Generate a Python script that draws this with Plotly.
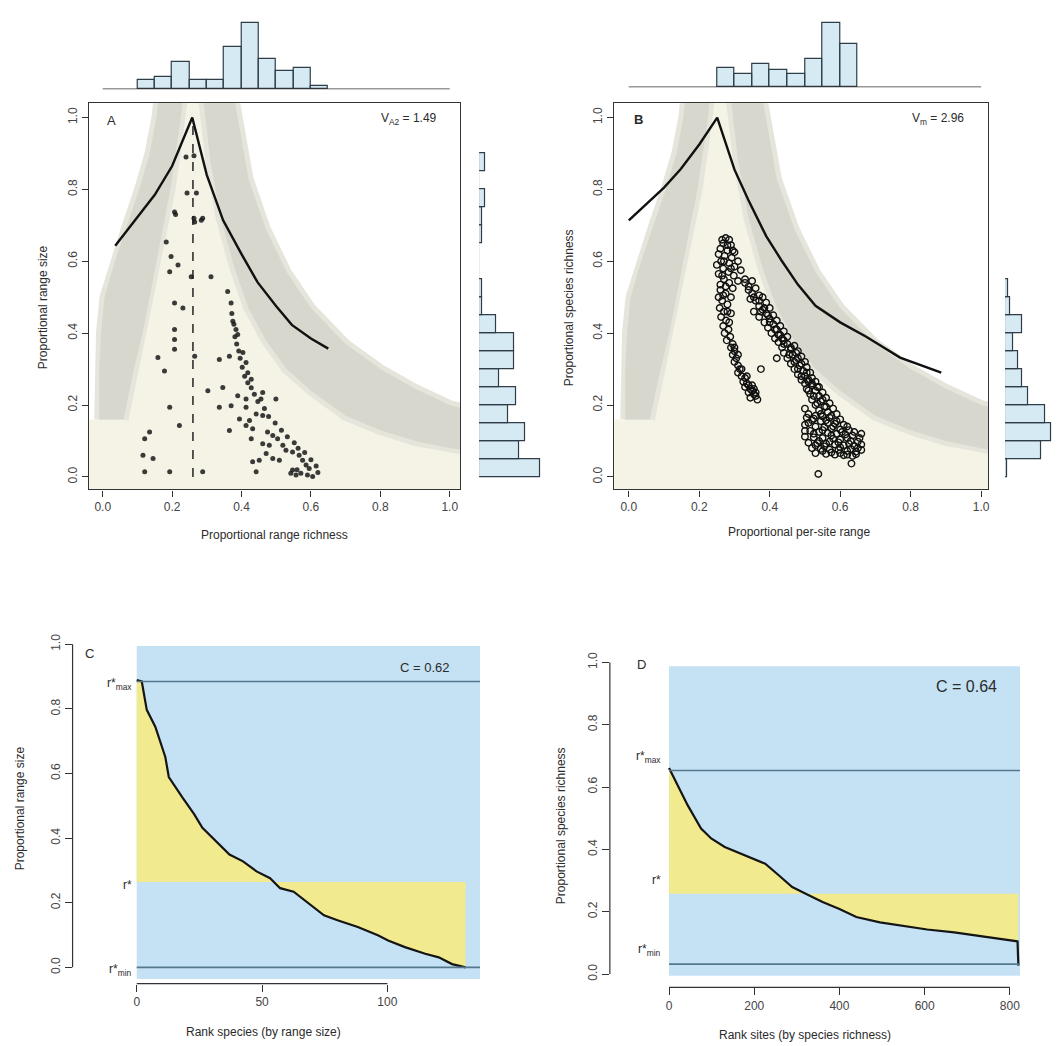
import plotly.graph_objects as go

# ---------------------------------------------------------------- data
prop_ticks = [0.0, 0.2, 0.4, 0.6, 0.8, 1.0]
prop_tick_text = ["0.0", "0.2", "0.4", "0.6", "0.8", "1.0"]

# Panel A scatter (proportional range richness, proportional range size)
a_points = [
    (0.24, 0.89), (0.263, 0.894), (0.243, 0.79), (0.27, 0.79), (0.21, 0.73), (0.263, 0.72), (0.288, 0.72),
    (0.207, 0.737), (0.284, 0.714), (0.265, 0.709), (0.183, 0.654), (0.197, 0.613), (0.217, 0.59),
    (0.193, 0.571), (0.255, 0.557), (0.312, 0.557), (0.36, 0.516), (0.37, 0.484), (0.207, 0.484),
    (0.231, 0.47), (0.375, 0.433), (0.384, 0.41), (0.389, 0.396), (0.207, 0.41), (0.207, 0.382),
    (0.207, 0.355), (0.159, 0.332), (0.265, 0.336), (0.336, 0.327), (0.365, 0.336), (0.404, 0.346),
    (0.413, 0.318), (0.178, 0.295), (0.418, 0.29), (0.428, 0.272), (0.303, 0.24), (0.346, 0.249),
    (0.389, 0.226), (0.413, 0.217), (0.456, 0.217), (0.461, 0.235), (0.499, 0.217), (0.193, 0.194),
    (0.336, 0.194), (0.37, 0.198), (0.413, 0.194), (0.442, 0.175), (0.461, 0.171), (0.394, 0.161),
    (0.423, 0.157), (0.221, 0.143), (0.365, 0.129), (0.413, 0.143), (0.432, 0.134), (0.475, 0.125),
    (0.49, 0.115), (0.504, 0.106), (0.135, 0.125), (0.121, 0.106), (0.428, 0.106), (0.461, 0.092),
    (0.48, 0.088), (0.519, 0.088), (0.528, 0.074), (0.547, 0.069), (0.471, 0.065), (0.116, 0.06),
    (0.145, 0.051), (0.432, 0.042), (0.451, 0.046), (0.49, 0.051), (0.509, 0.046), (0.566, 0.06),
    (0.576, 0.046), (0.586, 0.033), (0.595, 0.023), (0.547, 0.019), (0.288, 0.014), (0.121, 0.014),
    (0.193, 0.014), (0.442, 0.014), (0.542, 0.01), (0.557, 0.005), (0.571, 0.01), (0.605, 0.001),
    (0.372, 0.455), (0.378, 0.425), (0.381, 0.39), (0.386, 0.37), (0.392, 0.35), (0.396, 0.33),
    (0.402, 0.305), (0.409, 0.28), (0.418, 0.262), (0.428, 0.248), (0.437, 0.23), (0.447, 0.21),
    (0.466, 0.19), (0.478, 0.168), (0.497, 0.15), (0.515, 0.13), (0.532, 0.112), (0.552, 0.095),
    (0.563, 0.08), (0.582, 0.068), (0.6, 0.048), (0.615, 0.03), (0.59, 0.005), (0.56, 0.02), (0.62, 0.012),
]

# Panel B scatter (proportional per-site range, proportional species richness)
b_points = [
    (0.275, 0.665), (0.285, 0.66), (0.268, 0.65), (0.29, 0.645), (0.26, 0.635), (0.28, 0.63), (0.3, 0.625),
    (0.255, 0.62), (0.272, 0.615), (0.292, 0.61), (0.31, 0.6), (0.262, 0.6), (0.285, 0.595), (0.25, 0.59),
    (0.3, 0.585), (0.268, 0.58), (0.318, 0.575), (0.283, 0.57), (0.255, 0.565), (0.298, 0.56), (0.27, 0.55),
    (0.31, 0.545), (0.285, 0.54), (0.26, 0.535), (0.33, 0.54), (0.295, 0.525),
    (0.26, 0.52), (0.275, 0.51), (0.255, 0.5), (0.29, 0.5), (0.265, 0.49), (0.28, 0.48), (0.258, 0.47),
    (0.27, 0.46), (0.29, 0.455), (0.262, 0.445), (0.276, 0.435), (0.268, 0.42), (0.283, 0.41), (0.272, 0.4),
    (0.288, 0.39), (0.278, 0.38), (0.295, 0.37),
    (0.29, 0.36), (0.3, 0.35), (0.295, 0.34), (0.305, 0.33), (0.3, 0.32), (0.31, 0.31), (0.315, 0.3),
    (0.31, 0.29), (0.32, 0.28), (0.33, 0.275), (0.325, 0.265), (0.335, 0.26), (0.34, 0.255), (0.33, 0.25),
    (0.345, 0.245), (0.35, 0.24), (0.34, 0.235), (0.355, 0.23), (0.36, 0.225), (0.345, 0.22), (0.365, 0.215),
    (0.33, 0.55), (0.35, 0.545), (0.34, 0.53), (0.36, 0.525), (0.35, 0.51), (0.37, 0.505), (0.38, 0.5),
    (0.345, 0.495), (0.36, 0.49), (0.39, 0.485), (0.37, 0.475), (0.4, 0.47), (0.38, 0.465), (0.355, 0.46),
    (0.39, 0.455), (0.41, 0.45), (0.37, 0.445), (0.4, 0.44), (0.42, 0.435), (0.385, 0.43), (0.41, 0.425),
    (0.43, 0.42), (0.395, 0.415), (0.42, 0.41), (0.44, 0.405), (0.405, 0.4), (0.43, 0.395), (0.45, 0.39),
    (0.415, 0.385), (0.44, 0.38),
    (0.425, 0.375), (0.45, 0.37), (0.47, 0.365), (0.435, 0.36), (0.46, 0.355), (0.48, 0.35), (0.44, 0.345),
    (0.465, 0.34), (0.49, 0.335), (0.45, 0.33), (0.475, 0.325), (0.5, 0.32), (0.46, 0.315), (0.485, 0.31),
    (0.505, 0.305), (0.47, 0.3), (0.495, 0.295), (0.515, 0.29), (0.48, 0.285), (0.5, 0.28), (0.52, 0.275),
    (0.49, 0.27), (0.51, 0.265),
    (0.53, 0.265), (0.5, 0.26), (0.52, 0.255), (0.54, 0.25), (0.505, 0.245), (0.53, 0.24), (0.55, 0.235),
    (0.515, 0.23), (0.54, 0.225), (0.56, 0.22), (0.52, 0.215), (0.545, 0.21), (0.57, 0.205), (0.53, 0.2),
    (0.555, 0.195), (0.58, 0.19), (0.5, 0.19), (0.54, 0.185), (0.565, 0.18), (0.59, 0.175),
    (0.51, 0.175), (0.53, 0.17), (0.55, 0.168), (0.57, 0.165), (0.6, 0.16), (0.52, 0.158), (0.545, 0.155),
    (0.565, 0.15), (0.585, 0.148), (0.61, 0.145), (0.5, 0.145), (0.53, 0.14), (0.555, 0.138), (0.575, 0.135),
    (0.6, 0.132), (0.625, 0.13), (0.515, 0.128), (0.54, 0.125), (0.565, 0.122), (0.59, 0.12), (0.615, 0.118),
    (0.635, 0.115), (0.5, 0.112), (0.525, 0.11), (0.55, 0.108), (0.58, 0.106), (0.6, 0.104), (0.63, 0.1),
    (0.65, 0.098), (0.51, 0.095), (0.535, 0.094), (0.56, 0.092), (0.585, 0.09), (0.61, 0.088), (0.64, 0.086),
    (0.66, 0.09), (0.52, 0.08), (0.545, 0.078), (0.57, 0.076), (0.595, 0.075), (0.62, 0.072), (0.645, 0.07),
    (0.53, 0.066), (0.56, 0.064), (0.585, 0.062), (0.61, 0.06), (0.635, 0.058),
    (0.632, 0.037), (0.538, 0.008), (0.66, 0.12), (0.375, 0.3), (0.42, 0.33),
    (0.505, 0.165), (0.525, 0.162), (0.56, 0.158), (0.59, 0.155), (0.62, 0.14), (0.51, 0.15), (0.58, 0.14),
    (0.64, 0.125), (0.55, 0.13), (0.605, 0.125), (0.525, 0.12), (0.575, 0.115), (0.62, 0.108), (0.655, 0.108),
    (0.54, 0.1), (0.57, 0.098), (0.595, 0.096), (0.625, 0.092), (0.65, 0.08), (0.5, 0.128), (0.53, 0.088),
    (0.555, 0.085), (0.6, 0.082), (0.63, 0.078), (0.575, 0.068), (0.6, 0.066), (0.55, 0.072), (0.62, 0.062),
    (0.645, 0.063), (0.66, 0.075),
    (0.44, 0.37), (0.46, 0.36), (0.475, 0.345), (0.455, 0.34), (0.48, 0.33), (0.47, 0.32), (0.49, 0.315),
    (0.48, 0.3), (0.505, 0.29), (0.49, 0.28), (0.51, 0.27), (0.52, 0.26), (0.535, 0.25), (0.51, 0.24),
    (0.525, 0.225), (0.55, 0.215), (0.535, 0.205), (0.56, 0.195), (0.545, 0.175), (0.575, 0.17),
    (0.34, 0.52), (0.355, 0.5), (0.37, 0.49), (0.375, 0.46), (0.395, 0.45), (0.4, 0.43), (0.415, 0.41),
    (0.425, 0.395), (0.435, 0.385), (0.385, 0.47),
    (0.265, 0.66), (0.28, 0.645), (0.295, 0.63), (0.27, 0.6), (0.29, 0.58), (0.265, 0.56), (0.275, 0.53),
    (0.268, 0.505), (0.28, 0.46), (0.285, 0.43), (0.3, 0.36), (0.31, 0.34), (0.32, 0.3), (0.335, 0.28),
    (0.35, 0.255), (0.355, 0.245), (0.36, 0.235),
]

# Upper-bound curves
a_curve_x = [0.036, 0.09, 0.15, 0.2, 0.258, 0.3, 0.347, 0.4, 0.446, 0.5, 0.545, 0.6, 0.65]
a_curve_y = [0.643, 0.71, 0.785, 0.865, 1.0, 0.84, 0.714, 0.62, 0.542, 0.475, 0.423, 0.385, 0.357]
a_mean_x = 0.26
b_curve_x = [0.0, 0.05, 0.1, 0.147, 0.2, 0.251, 0.3, 0.339, 0.39, 0.435, 0.48, 0.53, 0.6, 0.674, 0.77, 0.887]
b_curve_y = [0.714, 0.76, 0.805, 0.856, 0.925, 1.0, 0.855, 0.771, 0.67, 0.6, 0.535, 0.476, 0.43, 0.39, 0.332, 0.29]

# Grey null-model envelope (shared by A and B)
band_left_y = [0.16, 0.3, 0.4, 0.5, 0.6, 0.7, 0.8, 0.9, 1.0, 1.05]
band_left_outer = [-0.01, -0.01, -0.005, 0.005, 0.035, 0.07, 0.105, 0.135, 0.155, 0.16]
band_left_inner = [0.06, 0.09, 0.115, 0.135, 0.155, 0.175, 0.195, 0.21, 0.225, 0.23]
band_right_x = [0.29, 0.31, 0.34, 0.38, 0.42, 0.47, 0.53, 0.6, 0.7, 0.8, 0.9, 1.0, 1.04]
band_right_lower = [1.05, 0.88, 0.72, 0.58, 0.47, 0.38, 0.3, 0.24, 0.17, 0.13, 0.1, 0.08, 0.075]
band_right_upper = [1.05, 1.05, 1.05, 1.05, 0.83, 0.69, 0.57, 0.47, 0.37, 0.3, 0.245, 0.2, 0.19]

# Marginal histograms (bin left edges, counts), bin width 0.05
bin_width = 0.05
a_top_edges = [0.10, 0.15, 0.20, 0.25, 0.30, 0.35, 0.40, 0.45, 0.50, 0.55, 0.60]
a_top_counts = [3, 4, 9, 3, 3, 14, 22, 10, 6, 7, 1]
b_top_edges = [0.25, 0.30, 0.35, 0.40, 0.45, 0.50, 0.55, 0.60]
b_top_counts = [58, 40, 72, 52, 40, 85, 196, 133]
a_right_edges = [0.0, 0.05, 0.10, 0.15, 0.20, 0.25, 0.30, 0.35, 0.40, 0.45, 0.50, 0.55, 0.60, 0.65, 0.70, 0.75, 0.80, 0.85]
a_right_counts = [21, 14, 16, 10, 13, 7, 12, 12, 6, 1, 1, 0, 0, 1, 1, 2, 0, 2]
b_right_edges = [0.0, 0.05, 0.10, 0.15, 0.20, 0.25, 0.30, 0.35, 0.40, 0.45, 0.50]
b_right_counts = [5, 110, 140, 120, 70, 52, 40, 25, 52, 15, 9]

# Panel C: ranked range sizes
c_rank = [0, 2, 4, 7.4, 11.4, 12.8, 18.2, 22.9, 26.2, 33, 37, 42.4, 47.8, 53.2, 57.2, 62.6, 69.3, 74.7,
          80.1, 88.2, 96.2, 100.3, 107, 115.1, 120.5, 125.8, 131.2]
c_value = [0.889, 0.885, 0.797, 0.745, 0.651, 0.589, 0.526, 0.474, 0.432, 0.38, 0.349, 0.328, 0.297, 0.276,
           0.245, 0.234, 0.193, 0.161, 0.146, 0.125, 0.099, 0.083, 0.0625, 0.042, 0.031, 0.01, 0.0]
c_r_max, c_r_mean, c_r_min = 0.885, 0.264, 0.0
c_n_max = 137
c_ticks_x = [0, 50, 100]
c_stat = "C = 0.62"

# Panel D: ranked site richness
d_rank = [0, 19.8, 43.6, 75.2, 99, 130.7, 178.2, 225.7, 257.4, 289.1, 320.8, 360.4, 400, 439.6, 495,
          542.6, 606, 669.3, 724.8, 780.2, 811.9, 818, 820]
d_value = [0.661, 0.607, 0.542, 0.467, 0.435, 0.408, 0.381, 0.354, 0.317, 0.279, 0.258, 0.231, 0.209,
           0.183, 0.166, 0.156, 0.143, 0.134, 0.124, 0.113, 0.107, 0.105, 0.027]
d_r_max, d_r_mean, d_r_min = 0.653, 0.258, 0.032
d_n_max = 824
d_ticks_x = [0, 200, 400, 600, 800]
d_stat = "C = 0.64"

# ---------------------------------------------------------------- styles
W, H = 1060, 1046
OFF = 8  # page body margin
FONT = "Liberation Sans, Arial, sans-serif"
INK = "#2b2b2b"
BEIGE = "#f4f3e6"
BAND = "#d7d7cd"
HALO = "#e5e5db"
BLUE = "#c4e2f4"
YELLOW = "#f2ea8e"
RLINE = "#55788c"
HIST_FILL = "rgba(165,208,230,0.45)"
HIST_LINE = "#2e3d47"


def fx(px):
    return (px - OFF) / W


def fy(py):
    return 1 - (py - OFF) / H


A_X = [fx(89), fx(461)]
B_X = [fx(615.5), fx(990)]
AB_Y = [fy(484), fy(94)]
A_XR = [-0.04, 1.03]
B_XR = [-0.041, 1.02]
AB_YR = [-0.035, 1.04]

fig = go.Figure()


def add_envelope(xa, ya, curve_x, curve_y):
    bx = [-0.05, -0.05] + band_left_outer + band_right_x + [1.05]
    by = [-0.05, band_left_y[0]] + band_left_y + band_right_upper + [-0.05]
    fig.add_trace(go.Scatter(x=bx, y=by, fill="toself", fillcolor=BEIGE, mode="lines",
                             line=dict(width=0), xaxis=xa, yaxis=ya, hoverinfo="skip"))
    lx = band_left_outer + band_left_inner[::-1]
    ly = band_left_y + band_left_y[::-1]
    rx = band_right_x + band_right_x[::-1]
    ry = band_right_lower + band_right_upper[::-1]
    for px_, py_ in ((lx, ly), (rx, ry)):
        fig.add_trace(go.Scatter(x=px_, y=py_, fill="toself", fillcolor=HALO, mode="lines",
                                 line=dict(width=10, color=HALO), xaxis=xa, yaxis=ya, hoverinfo="skip"))
        fig.add_trace(go.Scatter(x=px_, y=py_, fill="toself", fillcolor=BAND, mode="lines",
                                 line=dict(width=0), xaxis=xa, yaxis=ya, hoverinfo="skip"))
    fig.add_trace(go.Scatter(x=curve_x, y=curve_y, mode="lines", line=dict(color="#111", width=2.4),
                             xaxis=xa, yaxis=ya, hoverinfo="skip"))


# ---- Panel A
add_envelope("x", "y", a_curve_x, a_curve_y)
fig.add_trace(go.Scatter(x=[a_mean_x, a_mean_x], y=[0, 1.0], mode="lines",
                         line=dict(color="#222", width=1.5, dash="dash"), xaxis="x", yaxis="y"))
fig.add_trace(go.Scatter(x=[p[0] for p in a_points], y=[p[1] for p in a_points], mode="markers",
                         marker=dict(size=5, color="rgba(25,25,25,0.85)"), xaxis="x", yaxis="y"))

# ---- Panel B
add_envelope("x2", "y2", b_curve_x, b_curve_y)
fig.add_trace(go.Scatter(x=[p[0] for p in b_points], y=[p[1] for p in b_points], mode="markers",
                         marker=dict(size=6.5, symbol="circle-open", color="#111", line=dict(width=1.4)),
                         xaxis="x2", yaxis="y2"))


# ---- marginal histograms
def centers(edges):
    return [e + bin_width / 2 for e in edges]


hist_marker = dict(color=HIST_FILL, line=dict(color=HIST_LINE, width=1.2))
fig.add_trace(go.Bar(x=centers(a_top_edges), y=a_top_counts, width=bin_width, marker=hist_marker,
                     xaxis="x3", yaxis="y3"))
fig.add_trace(go.Scatter(x=[0, 1], y=[0, 0], mode="lines", line=dict(color="#333", width=1.5),
                         xaxis="x3", yaxis="y3"))
fig.add_trace(go.Bar(x=centers(b_top_edges), y=b_top_counts, width=bin_width, marker=hist_marker,
                     xaxis="x4", yaxis="y4"))
fig.add_trace(go.Scatter(x=[0, 1], y=[0, 0], mode="lines", line=dict(color="#333", width=1.5),
                         xaxis="x4", yaxis="y4"))
fig.add_trace(go.Bar(y=centers(a_right_edges), x=a_right_counts, width=bin_width, orientation="h",
                     marker=hist_marker, xaxis="x5", yaxis="y5"))
fig.add_trace(go.Bar(y=centers(b_right_edges), x=b_right_counts, width=bin_width, orientation="h",
                     marker=hist_marker, xaxis="x6", yaxis="y6"))

# ---- Panel C
fig.add_trace(go.Scatter(x=[0, c_rank[-1]], y=[c_r_mean, c_r_mean], mode="lines", line=dict(width=0),
                         xaxis="x7", yaxis="y7", hoverinfo="skip"))
fig.add_trace(go.Scatter(x=c_rank, y=c_value, mode="lines", fill="tonexty", fillcolor=YELLOW,
                         line=dict(color="#151515", width=2.2), xaxis="x7", yaxis="y7"))
for rv in (c_r_max, c_r_min):
    fig.add_trace(go.Scatter(x=[0, c_n_max], y=[rv, rv], mode="lines", line=dict(color=RLINE, width=1.6),
                             xaxis="x7", yaxis="y7"))

# ---- Panel D
fig.add_trace(go.Scatter(x=[0, d_rank[-1]], y=[d_r_mean, d_r_mean], mode="lines", line=dict(width=0),
                         xaxis="x8", yaxis="y8", hoverinfo="skip"))
fig.add_trace(go.Scatter(x=d_rank, y=d_value, mode="lines", fill="tonexty", fillcolor=YELLOW,
                         line=dict(color="#151515", width=2.2), xaxis="x8", yaxis="y8"))
for rv in (d_r_max, d_r_min):
    fig.add_trace(go.Scatter(x=[0, d_n_max], y=[rv, rv], mode="lines", line=dict(color=RLINE, width=1.6),
                             xaxis="x8", yaxis="y8"))

# ---------------------------------------------------------------- axes
tickfont = dict(family=FONT, size=12, color="#444")


def box_axis(domain, rng, anchor, angle=0):
    return dict(domain=domain, range=rng, anchor=anchor, showline=True, mirror=True, linecolor="#333",
                linewidth=1.2, ticks="outside", ticklen=6, tickcolor="#333", tickvals=prop_ticks,
                ticktext=prop_tick_text, tickangle=angle, showgrid=False, zeroline=False, tickfont=tickfont)


def hidden(domain, rng, anchor):
    return dict(domain=domain, range=rng, anchor=anchor, visible=False, showgrid=False, zeroline=False)


def open_axis(domain, rng, anchor, tickvals, ticktext, angle=0):
    return dict(domain=domain, range=rng, anchor=anchor, showline=False, ticks="outside", ticklen=7,
                tickcolor="#333", tickvals=tickvals, ticktext=ticktext, tickangle=angle, showgrid=False,
                zeroline=False, tickfont=tickfont)


C_X = [fx(72.7), fx(481)]
C_Y = [fy(983), fy(640)]
D_X = [fx(611), fx(1022)]
D_Y = [fy(986.8), fy(655)]

fig.update_layout(
    width=W, height=H, margin=dict(l=0, r=0, t=0, b=0),
    paper_bgcolor="white", plot_bgcolor="white", showlegend=False,
    font=dict(family=FONT, color=INK), bargap=0,
    xaxis=box_axis(A_X, A_XR, "y"),
    yaxis=box_axis(AB_Y, AB_YR, "x", angle=-90),
    xaxis2=box_axis(B_X, B_XR, "y2"),
    yaxis2=box_axis(AB_Y, AB_YR, "x2", angle=-90),
    xaxis3=hidden(A_X, A_XR, "y3"),
    yaxis3=hidden([fy(80), fy(10)], [0, 23], "x3"),
    xaxis4=hidden(B_X, B_XR, "y4"),
    yaxis4=hidden([fy(78), fy(10)], [0, 205], "x4"),
    xaxis5=hidden([fx(480), fx(545)], [0, 22.5], "y5"),
    yaxis5=hidden(AB_Y, AB_YR, "x5"),
    xaxis6=hidden([fx(1007), fx(1060)], [0, 160], "y6"),
    yaxis6=hidden(AB_Y, AB_YR, "x6"),
    xaxis7=open_axis(C_X, [-25.6, 137], "y7", c_ticks_x, [str(v) for v in c_ticks_x]),
    yaxis7=open_axis(C_Y, [-0.0506, 1.001], "x7", prop_ticks, prop_tick_text, angle=-90),
    xaxis8=open_axis(D_X, [-138.9, 824], "y8", d_ticks_x, [str(v) for v in d_ticks_x]),
    yaxis8=open_axis(D_Y, [-0.0429, 1.0115], "x8", prop_ticks, prop_tick_text, angle=-90),
)

# background rectangles and R-style axis lines for C and D
fig.add_shape(type="rect", xref="x7", yref="y7", x0=0, x1=c_n_max, y0=-0.036, y1=0.995,
              fillcolor=BLUE, line=dict(width=0), layer="below")
fig.add_shape(type="rect", xref="x8", yref="y8", x0=0, x1=d_n_max, y0=-0.005, y1=0.988,
              fillcolor=BLUE, line=dict(width=0), layer="below")
fig.add_shape(type="line", xref="x7", yref="y7 domain", x0=0, x1=c_ticks_x[-1], y0=0, y1=0,
              line=dict(color="#333", width=1.2))
fig.add_shape(type="line", xref="x7 domain", yref="y7", x0=0, x1=0, y0=0, y1=1,
              line=dict(color="#333", width=1.2))
fig.add_shape(type="line", xref="x8", yref="y8 domain", x0=0, x1=d_ticks_x[-1], y0=0, y1=0,
              line=dict(color="#333", width=1.2))
fig.add_shape(type="line", xref="x8 domain", yref="y8", x0=0, x1=0, y0=0, y1=1,
              line=dict(color="#333", width=1.2))


# ---------------------------------------------------------------- text
def note(text, x, y, size=12, rot=0, xanchor="center", yanchor="middle", xref="paper", yref="paper",
         yshift=0, color=INK):
    fig.add_annotation(text=text, x=x, y=y, xref=xref, yref=yref, showarrow=False, textangle=rot,
                       xanchor=xanchor, yanchor=yanchor, yshift=yshift,
                       font=dict(family=FONT, size=size, color=color))


# axis titles
note("Proportional range size", fx(43), fy(300), rot=-90)
note("Proportional range richness", fx(275), fy(530))
note("Proportional species richness", fx(570), fy(300), rot=-90)
note("Proportional per-site range", fx(800), fy(527))
note("Proportional range size", fx(20), fy(806), rot=-90)
note("Rank species (by range size)", fx(264), fy(1032))
note("Proportional species richness", fx(562), fy(823), rot=-90)
note("Rank sites (by species richness)", fx(807), fy(1035))

# panel letters and statistics
note("A", fx(112), fy(111), size=13)
note("V<sub>A2</sub> = 1.49", fx(440), fy(110), size=12, xanchor="right")
note("<b>B</b>", fx(640), fy(110), size=13)
note("V<sub>m</sub> = 2.96", fx(968), fy(110), size=12, xanchor="right")
note("C", fx(90), fy(650), size=13)
note(c_stat, fx(426), fy(664), size=13)
note("D", fx(643), fy(661), size=13)
note(d_stat, fx(968), fy(683), size=16)

# r* labels
for txt, val in (("r*<sub>max</sub>", c_r_max), ("r*", c_r_mean), ("r*<sub>min</sub>", c_r_min)):
    note(txt, fx(134), val, size=12, xanchor="right", yref="y7", yshift=-3)
for txt, val in (("r*<sub>max</sub>", d_r_max), ("r*", d_r_mean), ("r*<sub>min</sub>", d_r_min)):
    note(txt, fx(664), val, size=12, xanchor="right", yref="y8", yshift=14)

fig.write_html("out.html")
